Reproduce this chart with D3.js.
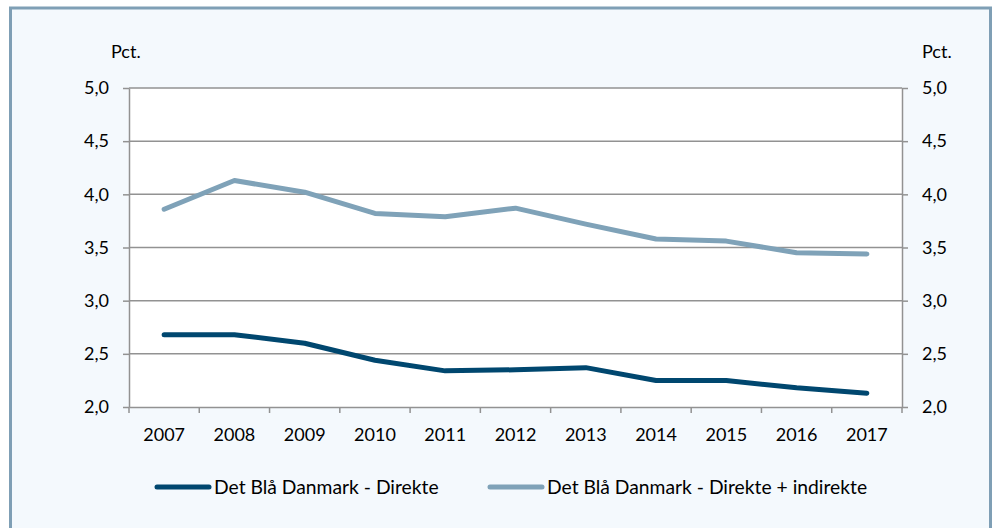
<!DOCTYPE html>
<html>
<head>
<meta charset="utf-8">
<title>Det Blå Danmark</title>
<script src="https://d3js.org/d3.v7.min.js"></script>
<style>
  body { margin: 0; background: #ffffff; }
  svg { display: block; font-family: Lato, "Open Sans", sans-serif; }
</style>
</head>
<body>
<div id="chart"></div>
<script>
// data
const years = ["2007", "2008", "2009", "2010", "2011", "2012", "2013", "2014", "2015", "2016", "2017"];
const direkte = [2.68, 2.68, 2.60, 2.44, 2.34, 2.35, 2.37, 2.25, 2.25, 2.18, 2.13];
const direkteIndirekte = [3.86, 4.13, 4.02, 3.82, 3.79, 3.87, 3.72, 3.58, 3.56, 3.45, 3.44];
const yTicks = [2.0, 2.5, 3.0, 3.5, 4.0, 4.5, 5.0];
const seriesNames = ["Det Blå Danmark - Direkte", "Det Blå Danmark - Direkte + indirekte"];

const w = 1003, h = 528;
const plotLeft = 129, plotRight = 902, plotTop = 88, plotBottom = 407;
const darkBlue = "#00476f", lightBlue = "#7fa2b8", grey = "#929292";

const svg = d3.select("#chart").append("svg")
  .attr("width", w)
  .attr("height", h);

// frame
svg.append("rect")
  .attr("x", 10.5).attr("y", 8).attr("width", 980).attr("height", 540)
  .attr("fill", "#f4f9fd")
  .attr("stroke", "#7f9fb5")
  .attr("stroke-width", 3);

svg.append("rect")
  .attr("x", plotLeft).attr("y", plotTop)
  .attr("width", plotRight - plotLeft).attr("height", plotBottom - plotTop)
  .attr("fill", "#ffffff");

const x = d3.scaleBand().domain(years).range([plotLeft, plotRight]);
const y = d3.scaleLinear().domain([2, 5]).range([plotBottom, plotTop]);

// gridlines
svg.append("g")
  .selectAll("line")
  .data(yTicks.slice(1))
  .enter().append("line")
  .attr("x1", plotLeft).attr("x2", plotRight)
  .attr("y1", d => y(d)).attr("y2", d => y(d))
  .attr("stroke", grey)
  .attr("stroke-width", 1.5);

const fmt = d => d.toFixed(1).replace(".", ",");

function styleAxis(g) {
  g.selectAll(".domain").attr("stroke", grey).attr("stroke-width", 1.5);
  g.selectAll(".tick line").attr("stroke", grey).attr("stroke-width", 1.5);
  g.selectAll("text").attr("fill", "#000").style("font-size", "18px")
    .style("font-family", "Lato, 'Open Sans', sans-serif");
}

// left axis
svg.append("g")
  .attr("transform", `translate(${plotLeft},0)`)
  .call(d3.axisLeft(y).tickValues(yTicks).tickFormat(fmt).tickSize(6).tickSizeOuter(0).tickPadding(14))
  .call(styleAxis);

// right axis
svg.append("g")
  .attr("transform", `translate(${plotRight},0)`)
  .call(d3.axisRight(y).tickValues(yTicks).tickFormat(fmt).tickSize(6).tickSizeOuter(0).tickPadding(14))
  .call(styleAxis);

// bottom axis, ticks between categories
svg.append("g")
  .attr("transform", `translate(0,${plotBottom})`)
  .call(d3.axisBottom(x).tickSize(0).tickSizeOuter(0).tickPadding(21))
  .call(styleAxis);

svg.append("g")
  .selectAll("line")
  .data(years)
  .enter().append("line")
  .attr("x1", d => x(d)).attr("x2", d => x(d))
  .attr("y1", plotBottom).attr("y2", plotBottom + 6)
  .attr("stroke", grey)
  .attr("stroke-width", 1.5);

svg.append("line")
  .attr("x1", plotRight).attr("x2", plotRight)
  .attr("y1", plotBottom).attr("y2", plotBottom + 6)
  .attr("stroke", grey)
  .attr("stroke-width", 1.5);

// unit labels
svg.append("text").attr("x", 111).attr("y", 58).style("font-size", "18px").text("Pct.");
svg.append("text").attr("x", 922).attr("y", 58).style("font-size", "18px").text("Pct.");

// lines
const line = d3.line()
  .x((d, i) => x(years[i]) + x.bandwidth() / 2)
  .y(d => y(d));

[[direkteIndirekte, lightBlue], [direkte, darkBlue]].forEach(([vals, col]) => {
  svg.append("path")
    .datum(vals)
    .attr("d", line)
    .attr("fill", "none")
    .attr("stroke", col)
    .attr("stroke-width", 5)
    .attr("stroke-linecap", "round")
    .attr("stroke-linejoin", "round");
});

// legend
const legend = [
  { name: seriesNames[0], color: darkBlue, x: 157 },
  { name: seriesNames[1], color: lightBlue, x: 490 }
];
const lg = svg.append("g").selectAll("g").data(legend).enter().append("g")
  .attr("transform", d => `translate(${d.x},487)`);
lg.append("line")
  .attr("x1", 0).attr("x2", 52)
  .attr("stroke", d => d.color)
  .attr("stroke-width", 5)
  .attr("stroke-linecap", "round");
lg.append("text")
  .attr("x", 57).attr("dy", "0.35em")
  .style("font-size", "19.3px")
  .text(d => d.name);
</script>
</body>
</html>
